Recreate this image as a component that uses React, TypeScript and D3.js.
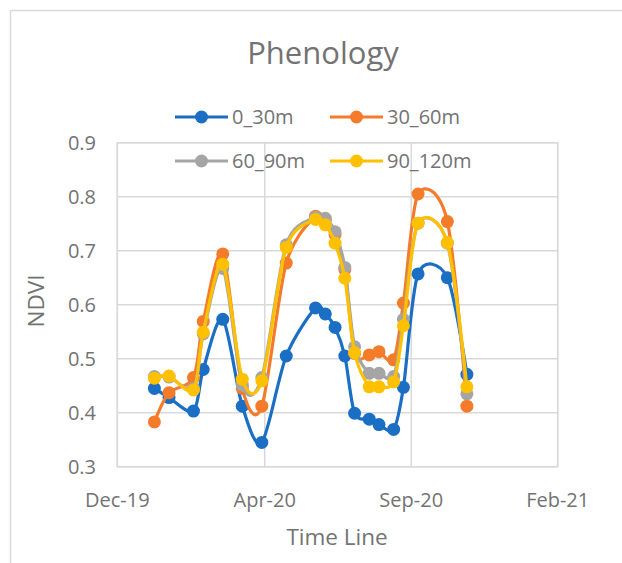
import React from 'react';
import * as d3 from 'd3';

const dates = [
    '2020-01-08', '2020-01-23', '2020-02-17', '2020-02-27', '2020-03-18',
    '2020-04-07', '2020-04-27', '2020-05-22', '2020-06-21', '2020-07-01',
    '2020-07-11', '2020-07-21', '2020-07-31', '2020-08-15', '2020-08-25',
    '2020-09-09', '2020-09-19', '2020-10-04', '2020-11-03', '2020-11-23',
];
const d0_30 = [0.445, 0.428, 0.403, 0.480, 0.573, 0.412, 0.345, 0.505, 0.594, 0.583, 0.558, 0.505, 0.399, 0.388, 0.378, 0.369, 0.447, 0.657, 0.650, 0.471];
const d30_60 = [0.383, 0.437, 0.465, 0.569, 0.694, 0.445, 0.412, 0.677, 0.764, 0.757, 0.730, 0.665, 0.510, 0.507, 0.513, 0.498, 0.603, 0.805, 0.754, 0.412];
const d60_90 = [0.467, 0.466, 0.445, 0.546, 0.667, 0.451, 0.465, 0.711, 0.762, 0.760, 0.735, 0.669, 0.522, 0.473, 0.473, 0.467, 0.573, 0.751, 0.714, 0.435];
const d90_120 = [0.464, 0.468, 0.442, 0.549, 0.675, 0.462, 0.459, 0.706, 0.758, 0.748, 0.714, 0.649, 0.511, 0.448, 0.448, 0.457, 0.561, 0.751, 0.715, 0.448];

const seriesNames = ['0_30m', '30_60m', '60_90m', '90_120m'];
const seriesColors = ['#1a6fc4', '#f47b2a', '#a5a5a5', '#ffc000'];
const yTicks = [0.3, 0.4, 0.5, 0.6, 0.7, 0.8, 0.9];
const xTickDates = ['2019-12-01', '2020-04-30', '2020-09-27', '2021-02-24'];

const W = 622, H = 563;
const left = 117.3, right = 557.7, top = 142.7, bottom = 466.7;
const FONT = '"Open Sans", "Liberation Sans", sans-serif';
const TXT = '#737373';
const GRID = '#d9d9d9';

export default function App() {
    const parse = d3.utcParse('%Y-%m-%d');
    const x = d3.scaleUtc([parse(xTickDates[0])!, parse(xTickDates[3])!], [left, right]);
    const y = d3.scaleLinear([0.3, 0.9], [bottom, top]);
    const fmt = d3.utcFormat('%b-%y');
    const xs = dates.map(d => parse(d)!);
    const all = [d0_30, d30_60, d60_90, d90_120];

    // excel-style smoothing, a bit tighter than plain catmull-rom
    const line = d3.line<[Date, number]>()
        .x(d => x(d[0]))
        .y(d => y(d[1]))
        .curve(d3.curveCardinal.tension(0.12));

    const legendPos = [[175, 117], [330, 117], [175, 161], [330, 161]];

    return (
        <svg width={W} height={H} style={{ position: 'absolute', left: 0, top: 0, background: '#fff' }}>
            <rect x={10.5} y={10.5} width={640} height={600} fill="#fff" stroke={GRID} strokeWidth={1.5} />
            <text x={323} y={64} textAnchor="middle" fontFamily={FONT} fontSize={31} fill={TXT}>Phenology</text>

            {yTicks.map(t => (
                <g key={t}>
                    <line x1={left} x2={right} y1={y(t)} y2={y(t)} stroke={GRID} strokeWidth={1.5} />
                    <text x={96} y={y(t)} dy="0.36em" textAnchor="end" fontFamily={FONT} fontSize={20} fill={TXT}>{t.toFixed(1)}</text>
                </g>
            ))}
            {xTickDates.map(s => {
                const d = parse(s)!;
                return (
                    <g key={s}>
                        <line x1={x(d)} x2={x(d)} y1={top} y2={bottom} stroke={GRID} strokeWidth={1.5} />
                        <text x={x(d)} y={507} textAnchor="middle" fontFamily={FONT} fontSize={20} fill={TXT}>{fmt(d)}</text>
                    </g>
                );
            })}
            <rect x={left} y={top} width={right - left} height={bottom - top} fill="none" stroke={GRID} strokeWidth={1.5} />

            <text x={337} y={545} textAnchor="middle" fontFamily={FONT} fontSize={22.5} fill={TXT}>Time Line</text>
            <text transform="translate(44,301) rotate(-90)" textAnchor="middle" fontFamily={FONT} fontSize={22.5} fill={TXT}>NDVI</text>

            {all.map((vals, i) => {
                const pts = xs.map((d, j) => [d, vals[j]] as [Date, number]);
                return (
                    <g key={i}>
                        <path d={line(pts)!} fill="none" stroke={seriesColors[i]} strokeWidth={3.2} strokeLinejoin="round" />
                        {pts.map((p, j) => (
                            <circle key={j} cx={x(p[0])} cy={y(p[1])} r={6.5} fill={seriesColors[i]} />
                        ))}
                    </g>
                );
            })}

            {seriesNames.map((n, i) => {
                const [lx, ly] = legendPos[i];
                return (
                    <g key={n}>
                        <line x1={lx} x2={lx + 53} y1={ly} y2={ly} stroke={seriesColors[i]} strokeWidth={3.2} />
                        <circle cx={lx + 26.5} cy={ly} r={6.5} fill={seriesColors[i]} />
                        <text x={lx + 57} y={ly} dy="0.36em" fontFamily={FONT} fontSize={20} fill={TXT}>{n}</text>
                    </g>
                );
            })}
        </svg>
    );
}
